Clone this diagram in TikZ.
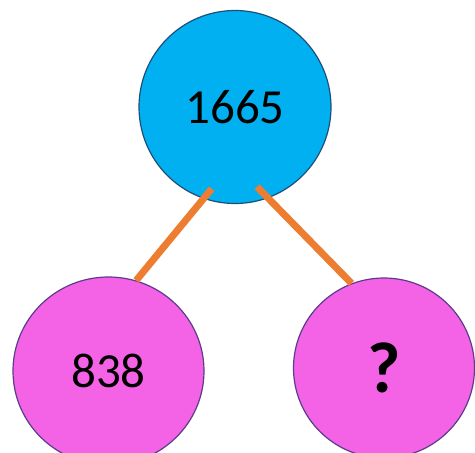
\documentclass[tikz,border=0pt]{standalone}
\usepackage{fontspec}
\setmainfont{Carlito}
\usetikzlibrary{shapes.geometric}
\definecolor{topblue}{HTML}{00B0F0}
\definecolor{topedge}{HTML}{1F4E79}
\definecolor{pinkfill}{HTML}{F462E6}
\definecolor{pinkedge}{HTML}{5A3C8C}
\definecolor{linkorange}{HTML}{ED7D31}
\tikzset{
  blob/.style={ellipse, inner sep=0pt, line width=1.2pt, text=black},
  topblob/.style={blob, draw=topedge, fill=topblue},
  pinkblob/.style={blob, draw=pinkedge, fill=pinkfill},
  link/.style={draw=linkorange, line width=7pt},
  numtext/.style={font=\fontsize{49}{58}\selectfont},
  qtext/.style={font=\fontsize{72}{80}\selectfont\bfseries}
}
\begin{document}
\begin{tikzpicture}[x=1pt,y=-1pt]
\useasboundingbox (0,0) rectangle (475,453);
\fill[white] (0,0) rectangle (475,453);
\node[topblob, minimum width=192pt, minimum height=193pt, numtext] (top) at (235,107) {1665};
\node[pinkblob, minimum width=191pt, minimum height=188pt, numtext] (left) at (108.5,371) {838};
\node[pinkblob, minimum width=181pt, minimum height=180pt, qtext] (right) at (384,368) {?};
\draw[link, shorten <=-13pt] (top.251) -- (left.73);
\draw[link, shorten <=-16pt] (top.290) -- (right.111);
\end{tikzpicture}
\end{document}
